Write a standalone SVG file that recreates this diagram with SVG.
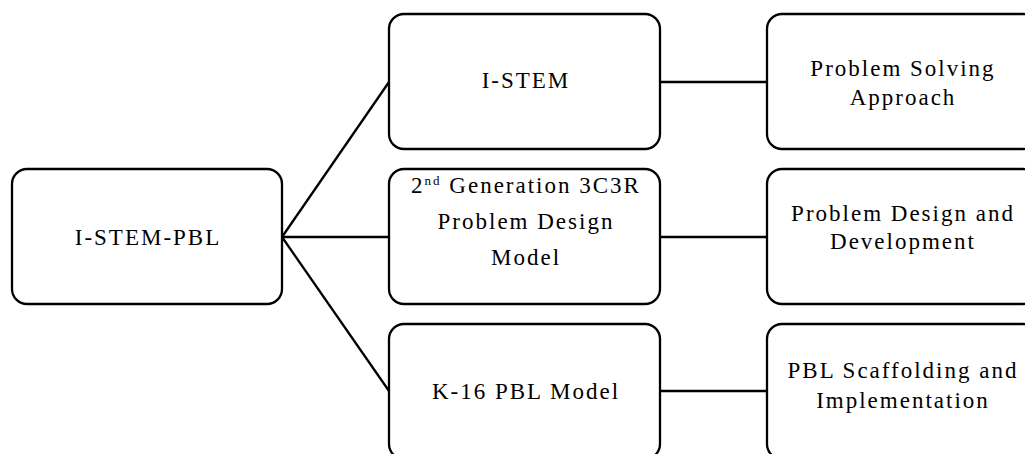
<svg xmlns="http://www.w3.org/2000/svg" width="1025" height="454" viewBox="0 0 1025 454">
<style>
.box{fill:#fff;stroke:#000;stroke-width:2.3}
.t{font-family:"Liberation Serif",serif;font-size:23px;letter-spacing:2px;text-anchor:middle;fill:#000}
.c{stroke:#000;stroke-width:2.3;fill:none}
</style>
<rect width="1025" height="454" fill="#fff"/>
<g id="connectors">
<line class="c" x1="282" y1="237" x2="389" y2="82"/>
<line class="c" x1="282" y1="237" x2="389" y2="237"/>
<line class="c" x1="282" y1="237" x2="389" y2="391"/>
<line class="c" x1="660" y1="82" x2="767" y2="82"/>
<line class="c" x1="660" y1="237" x2="767" y2="237"/>
<line class="c" x1="660" y1="391" x2="767" y2="391"/>
</g>
<g id="n-root">
<rect class="box" x="12" y="169" width="270" height="135" rx="15"/>
<text class="t" x="148" y="245">I-STEM-PBL</text>
</g>
<g id="n-istem">
<rect class="box" x="389" y="14" width="271" height="135" rx="15"/>
<text class="t" x="526" y="88">I-STEM</text>
</g>
<g id="n-3c3r">
<rect class="box" x="389" y="169" width="271" height="135" rx="15"/>
<text class="t" x="526" y="193">2<tspan font-size="13" dy="-8">nd</tspan><tspan dy="8"> Generation 3C3R</tspan></text>
<text class="t" x="526" y="229">Problem Design</text>
<text class="t" x="526" y="265">Model</text>
</g>
<g id="n-k16">
<rect class="box" x="389" y="324" width="271" height="135" rx="15"/>
<text class="t" x="526" y="399">K-16 PBL Model</text>
</g>
<g id="n-psa">
<rect class="box" x="767" y="14" width="271" height="135" rx="15"/>
<text class="t" x="903" y="76">Problem Solving</text>
<text class="t" x="903" y="105">Approach</text>
</g>
<g id="n-pdd">
<rect class="box" x="767" y="169" width="271" height="135" rx="15"/>
<text class="t" x="903" y="221">Problem Design and</text>
<text class="t" x="903" y="249">Development</text>
</g>
<g id="n-pbl">
<rect class="box" x="767" y="324" width="271" height="135" rx="15"/>
<text class="t" x="903" y="378">PBL Scaffolding and</text>
<text class="t" x="903" y="408">Implementation</text>
</g>
</svg>
